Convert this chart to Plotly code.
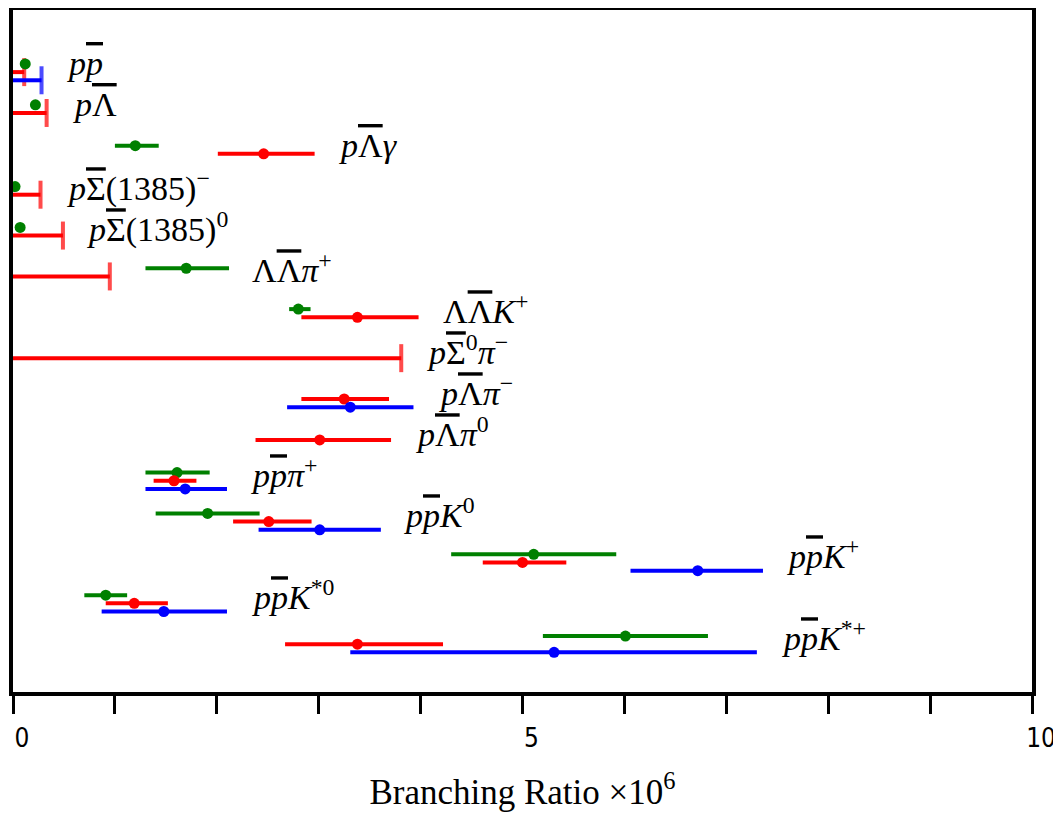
import plotly.graph_objects as go

# ---------------- data ----------------
OL = '<span style="text-decoration:overline;text-decoration-thickness:2px">{}</span>'
pbar = "<i>" + OL.format("p") + "</i>"
Lbar = OL.format("Λ")
Sbar = OL.format("Σ")
decay_labels = [
    "<i>p</i>" + pbar,
    "<i>p</i>" + Lbar,
    "<i>p</i>" + Lbar + "<i>γ</i>",
    "<i>p</i>" + Sbar + "(1385)<sup>−</sup>",
    "<i>p</i>" + Sbar + "(1385)<sup>0</sup>",
    "Λ" + Lbar + "<i>π</i><sup>+</sup>",
    "Λ" + Lbar + "<i>K</i><sup>+</sup>",
    "<i>p</i>" + Sbar + "<sup>0</sup><i>π</i><sup>−</sup>",
    "<i>p</i>" + Lbar + "<i>π</i><sup>−</sup>",
    "<i>p</i>" + Lbar + "<i>π</i><sup>0</sup>",
    "<i>p</i>" + pbar + "<i>π</i><sup>+</sup>",
    "<i>p</i>" + pbar + "<i>K</i><sup>0</sup>",
    "<i>p</i>" + pbar + "<i>K</i><sup>+</sup>",
    "<i>p</i>" + pbar + "<i>K</i><sup>*0</sup>",
    "<i>p</i>" + pbar + "<i>K</i><sup>*+</sup>",
]

# green series: central value and range (lo, hi)
green_rows = [0, 1, 2, 3, 4, 5, 6, 10, 11, 12, 13, 14]
green_val = [0.12, 0.22, 1.20, 0.02, 0.07, 1.70, 2.80, 1.61, 1.91, 5.11, 0.91, 6.01]
green_lo = [0.12, 0.22, 1.00, 0.02, 0.07, 1.30, 2.71, 1.30, 1.40, 4.30, 0.70, 5.20]
green_hi = [0.12, 0.22, 1.43, 0.02, 0.07, 2.12, 2.92, 1.93, 2.42, 5.92, 1.12, 6.82]

# red series: measurements
red_rows = [2, 6, 8, 9, 10, 11, 12, 13, 14]
red_val = [2.46, 3.38, 3.25, 3.01, 1.58, 2.51, 5.00, 1.19, 3.38]
red_lo = [2.01, 2.83, 2.83, 2.38, 1.38, 2.16, 4.61, 0.91, 2.67]
red_hi = [2.96, 3.98, 3.69, 3.71, 1.80, 2.93, 5.43, 1.52, 4.22]
# red series: upper limits
red_ul_rows = [0, 1, 3, 4, 5, 7]
red_ul = [0.11, 0.33, 0.27, 0.49, 0.95, 3.81]

# blue series: measurements
blue_rows = [8, 10, 11, 12, 13, 14]
blue_val = [3.31, 1.69, 3.01, 6.72, 1.48, 5.31]
blue_lo = [2.69, 1.30, 2.41, 6.06, 0.87, 3.31]
blue_hi = [3.93, 2.10, 3.61, 7.36, 2.10, 7.30]
# blue series: upper limits
blue_ul_rows = [0]
blue_ul = [0.28]

x_ticks = list(range(0, 11))
x_tick_text = ["0", "", "", "", "", "5", "", "", "", "", "10"]

# ---------------- styling / positions ----------------
GREEN = "#008000"
RED = "#ff0000"
BLUE = "#0000ff"
OFFSET = {"green": 0.0, "red": 0.2, "blue": 0.4}
label_x = [0.51, 0.57, 3.18, 0.51, 0.71, 2.33, 4.20, 4.04, 4.16, 3.94, 2.32, 3.82, 7.58, 2.33, 7.53]

fig = go.Figure()


def add_meas(rows, val, lo, hi, color, off):
    fig.add_trace(go.Scatter(
        x=val,
        y=[r + off for r in rows],
        mode="markers",
        marker=dict(color=color, size=11),
        error_x=dict(type="data", symmetric=False,
                     array=[h - v for h, v in zip(hi, val)],
                     arrayminus=[v - l for v, l in zip(val, lo)],
                     color=color, thickness=4, width=0),
        showlegend=False, hoverinfo="x",
    ))


def add_ul(rows, ul, color, off):
    xs, ys, sizes = [], [], []
    for r, u in zip(rows, ul):
        xs += [0, u, None]
        ys += [r + off, r + off, None]
        sizes += [0, 20, 0]
    fig.add_trace(go.Scatter(
        x=xs, y=ys, mode="lines+markers",
        line=dict(color=color, width=4),
        marker=dict(symbol="line-ns", size=sizes, color=color,
                    line=dict(color=color, width=4)),
        connectgaps=False, showlegend=False, hoverinfo="x",
    ))


add_ul(red_ul_rows, red_ul, RED, OFFSET["red"])
add_ul(blue_ul_rows, blue_ul, BLUE, OFFSET["blue"])
add_meas(green_rows, green_val, green_lo, green_hi, GREEN, OFFSET["green"])
add_meas(red_rows, red_val, red_lo, red_hi, RED, OFFSET["red"])
add_meas(blue_rows, blue_val, blue_lo, blue_hi, BLUE, OFFSET["blue"])

for i, (lab, lx) in enumerate(zip(decay_labels, label_x)):
    fig.add_annotation(x=lx, y=i, text=lab, showarrow=False,
                       xanchor="left", yanchor="middle",
                       font=dict(family="Liberation Serif", size=34, color="black"))

fig.update_layout(
    template="none",
    width=1053, height=805,
    margin=dict(l=5, r=29, t=2, b=121),
    paper_bgcolor="white", plot_bgcolor="white",
    xaxis=dict(
        range=[0, 10], tickvals=x_ticks, ticktext=x_tick_text,
        automargin=False,
        ticks="outside", ticklen=18, tickwidth=3, tickcolor="black",
        showline=True, linewidth=4, linecolor="black", mirror=True,
        showgrid=False, zeroline=False,
        ticklabelshift=9, ticklabelstandoff=2,
        tickfont=dict(family="Liberation Sans Narrow, DejaVu Sans Condensed, sans-serif", size=26, color="black"),
        title=dict(text="Branching Ratio ×10<sup>6</sup>", standoff=28,
                   font=dict(family="Liberation Serif", size=35, color="black")),
    ),
    yaxis=dict(
        range=[15.37, -1.32], showticklabels=False, ticks="",
        automargin=False,
        showline=True, linewidth=4, linecolor="black", mirror=True,
        showgrid=False, zeroline=False,
    ),
)

fig.write_html("out.html")
